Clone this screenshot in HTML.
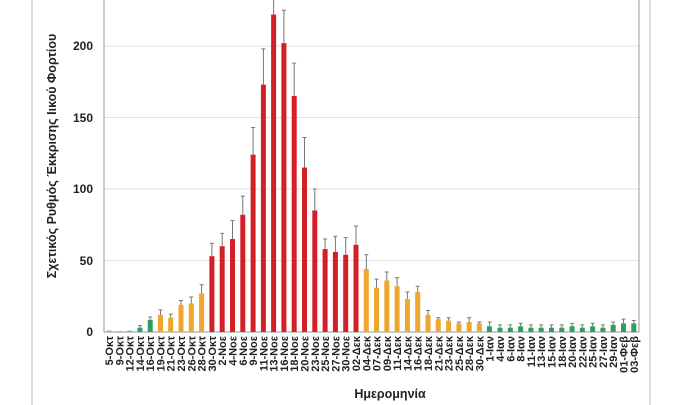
<!DOCTYPE html>
<html><head><meta charset="utf-8"><style>
html,body{margin:0;padding:0;background:#fff;width:690px;height:405px;overflow:hidden}
svg{display:block}
text{font-family:"Liberation Sans","DejaVu Sans",sans-serif;font-weight:bold;fill:#222}
.xl{font-size:11px}
</style></head><body>
<svg width="690" height="405" viewBox="0 0 690 405" xmlns="http://www.w3.org/2000/svg">
<line x1="32" y1="0" x2="32" y2="405" stroke="#bbb" stroke-width="1"/>
<line x1="650" y1="0" x2="650" y2="405" stroke="#bbb" stroke-width="1"/>
<g stroke="#e2e2e2" stroke-width="1">
<line x1="104" y1="46" x2="639" y2="46"/>
<line x1="104" y1="117.5" x2="639" y2="117.5"/>
<line x1="104" y1="189" x2="639" y2="189"/>
<line x1="104" y1="260.5" x2="639" y2="260.5"/>
</g>
<line x1="104" y1="0" x2="104" y2="332" stroke="#999"/>
<line x1="639" y1="0" x2="639" y2="332" stroke="#999"/>
<line x1="104" y1="332" x2="639" y2="332" stroke="#999"/>
<g font-size="12" text-anchor="end">
<text x="93" y="336">0</text>
<text x="93" y="265">50</text>
<text x="93" y="193">100</text>
<text x="93" y="122">150</text>
<text x="93" y="50">200</text>
</g>
<text transform="translate(56,156) rotate(-90)" text-anchor="middle" font-size="12.5">Σχετικός Ρυθμός Έκκρισης Ιικού Φορτίου</text>
<text x="390" y="398" text-anchor="middle" font-size="12.5">Ημερομηνία</text>

<g transform="translate(0,332) scale(1,-1.43)">
<g fill="#9aa">
<rect x="106.5" y="0" width="5" height="1"/><rect x="116.8" y="0" width="5" height="0.6"/><rect x="127.1" y="0" width="5" height="1"/>
</g>
<g fill="#2e9e5e">
<rect x="137.4" y="0" width="5" height="3"/><rect x="147.7" y="0" width="5" height="8.5"/>
<rect x="486.9" y="0" width="5" height="4"/><rect x="497.5" y="0" width="5" height="3"/><rect x="507.8" y="0" width="5" height="3"/><rect x="518.1" y="0" width="5" height="4"/><rect x="528.4" y="0" width="5" height="3"/><rect x="538.7" y="0" width="5" height="3"/><rect x="549" y="0" width="5" height="3"/><rect x="559.3" y="0" width="5" height="3"/><rect x="569.6" y="0" width="5" height="4"/><rect x="579.8" y="0" width="5" height="3"/><rect x="590.1" y="0" width="5" height="4"/><rect x="600.4" y="0" width="5" height="3"/><rect x="610.7" y="0" width="5" height="5"/><rect x="621" y="0" width="5" height="6"/><rect x="631.3" y="0" width="5" height="6"/>
</g>
<g fill="#efa62c">
<rect x="158" y="0" width="5" height="12"/><rect x="168.2" y="0" width="5" height="10"/><rect x="178.5" y="0" width="5" height="19"/><rect x="188.8" y="0" width="5" height="20"/><rect x="199.1" y="0" width="5" height="27"/>
<rect x="363.8" y="0" width="5" height="44"/><rect x="374" y="0" width="5" height="31"/><rect x="384.3" y="0" width="5" height="36"/><rect x="394.6" y="0" width="5" height="32"/><rect x="404.9" y="0" width="5" height="23"/><rect x="415.2" y="0" width="5" height="28"/><rect x="425.5" y="0" width="5" height="12"/><rect x="435.8" y="0" width="5" height="9"/><rect x="446.1" y="0" width="5" height="8"/><rect x="456.4" y="0" width="5" height="6"/><rect x="466.7" y="0" width="5" height="7"/><rect x="476.9" y="0" width="5" height="6"/>
</g>
<g fill="#d41f26">
<rect x="209.4" y="0" width="5" height="53"/><rect x="219.7" y="0" width="5" height="60"/><rect x="230" y="0" width="5" height="65"/><rect x="240.3" y="0" width="5" height="82"/><rect x="250.6" y="0" width="5" height="124"/><rect x="260.9" y="0" width="5" height="173"/><rect x="271.1" y="0" width="5" height="222"/><rect x="281.4" y="0" width="5" height="202"/><rect x="291.7" y="0" width="5" height="165"/><rect x="302" y="0" width="5" height="115"/><rect x="312.3" y="0" width="5" height="85"/><rect x="322.6" y="0" width="5" height="58"/><rect x="332.9" y="0" width="5" height="56"/><rect x="343.2" y="0" width="5" height="54"/><rect x="353.5" y="0" width="5" height="61"/>
</g>
<g stroke="#777" stroke-width="1" fill="none">
<path vector-effect="non-scaling-stroke" d="M139.9 3V4.5M150.2 8.5V10.5M160.5 12V15.5M170.7 10V12.5M181 19V22M191.3 20V24.5M201.6 27V33M211.9 53V62M222.2 60V69M232.5 65V78M242.8 82V95M253.1 124V143M263.4 173V198M273.6 222V240M283.9 202V225M294.2 165V188M304.5 115V136M314.8 85V100M325.1 58V65M335.4 56V67M345.7 54V66M356 61V74M366.3 44V54M376.5 31V37M386.8 36V42M397.1 32V38M407.4 23V28M417.7 28V32M428 12V15M438.3 9V10M448.6 8V10M458.9 6V7M469.2 7V10M479.4 6V7M489.7 4V7M500 3V5M510.3 3V5M520.6 4V6M530.9 3V5M541.2 3V5M551.5 3V5M561.8 3V5M572.1 4V6M582.3 3V5M592.6 4V6M602.9 3V5M613.2 5V7M623.5 6V9M633.8 6V8"/>
<path vector-effect="non-scaling-stroke" d="M138 4.5H142M148.2 10.5H152.2M158.5 15.5H162.5M168.7 12.5H172.7M179 22H183M189.3 24.5H193.3M199.6 33H203.6M209.9 62H213.9M220.2 69H224.2M230.5 78H234.5M240.8 95H244.8M251.1 143H255.1M261.4 198H265.4M281.9 225H285.9M292.2 188H296.2M302.5 136H306.5M312.8 100H316.8M323.1 65H327.1M333.4 67H337.4M343.7 66H347.7M354 74H358M364.3 54H368.3M374.5 37H378.5M384.8 42H388.8M395.1 38H399.1M405.4 28H409.4M415.7 32H419.7M426 15H430M436.3 10H440.3M446.6 10H450.6M456.9 7H460.9M467.2 10H471.2M477.4 7H481.4M487.7 7H491.7M498 5H502M508.3 5H512.3M518.6 6H522.6M528.9 5H532.9M539.2 5H543.2M549.5 5H553.5M559.8 5H563.8M570.1 6H574.1M580.3 5H584.3M590.6 6H594.6M600.9 5H604.9M611.2 7H615.2M621.5 9H625.5M631.8 8H635.8"/>
</g>
</g>

<g class="xl" text-anchor="end">
<text transform="translate(113,336) rotate(-90)">5-Οκτ</text>
<text transform="translate(123.3,336) rotate(-90)">9-Οκτ</text>
<text transform="translate(133.6,336) rotate(-90)">12-Οκτ</text>
<text transform="translate(143.9,336) rotate(-90)">14-Οκτ</text>
<text transform="translate(154.2,336) rotate(-90)">16-Οκτ</text>
<text transform="translate(164.5,336) rotate(-90)">19-Οκτ</text>
<text transform="translate(174.7,336) rotate(-90)">21-Οκτ</text>
<text transform="translate(185,336) rotate(-90)">23-Οκτ</text>
<text transform="translate(195.3,336) rotate(-90)">26-Οκτ</text>
<text transform="translate(205.6,336) rotate(-90)">28-Οκτ</text>
<text transform="translate(215.9,336) rotate(-90)">30-Οκτ</text>
<text transform="translate(226.2,336) rotate(-90)">2-Νοε</text>
<text transform="translate(236.5,336) rotate(-90)">4-Νοε</text>
<text transform="translate(246.8,336) rotate(-90)">6-Νοε</text>
<text transform="translate(257.1,336) rotate(-90)">9-Νοε</text>
<text transform="translate(267.4,336) rotate(-90)">11-Νοε</text>
<text transform="translate(277.6,336) rotate(-90)">13-Νοε</text>
<text transform="translate(287.9,336) rotate(-90)">16-Νοε</text>
<text transform="translate(298.2,336) rotate(-90)">18-Νοε</text>
<text transform="translate(308.5,336) rotate(-90)">20-Νοε</text>
<text transform="translate(318.8,336) rotate(-90)">23-Νοε</text>
<text transform="translate(329.1,336) rotate(-90)">25-Νοε</text>
<text transform="translate(339.4,336) rotate(-90)">27-Νοε</text>
<text transform="translate(349.7,336) rotate(-90)">30-Νοε</text>
<text transform="translate(360,336) rotate(-90)">02-Δεκ</text>
<text transform="translate(370.3,336) rotate(-90)">04-Δεκ</text>
<text transform="translate(380.5,336) rotate(-90)">07-Δεκ</text>
<text transform="translate(390.8,336) rotate(-90)">09-Δεκ</text>
<text transform="translate(401.1,336) rotate(-90)">11-Δεκ</text>
<text transform="translate(411.4,336) rotate(-90)">14-Δεκ</text>
<text transform="translate(421.7,336) rotate(-90)">16-Δεκ</text>
<text transform="translate(432,336) rotate(-90)">18-Δεκ</text>
<text transform="translate(442.3,336) rotate(-90)">21-Δεκ</text>
<text transform="translate(452.6,336) rotate(-90)">23-Δεκ</text>
<text transform="translate(462.9,336) rotate(-90)">25-Δεκ</text>
<text transform="translate(473.2,336) rotate(-90)">28-Δεκ</text>
<text transform="translate(483.4,336) rotate(-90)">30-Δεκ</text>
<text transform="translate(493.7,336) rotate(-90)">1-Ιαν</text>
<text transform="translate(504,336) rotate(-90)">4-Ιαν</text>
<text transform="translate(514.3,336) rotate(-90)">6-Ιαν</text>
<text transform="translate(524.6,336) rotate(-90)">8-Ιαν</text>
<text transform="translate(534.9,336) rotate(-90)">11-Ιαν</text>
<text transform="translate(545.2,336) rotate(-90)">13-Ιαν</text>
<text transform="translate(555.5,336) rotate(-90)">15-Ιαν</text>
<text transform="translate(565.8,336) rotate(-90)">18-Ιαν</text>
<text transform="translate(576.1,336) rotate(-90)">20-Ιαν</text>
<text transform="translate(586.3,336) rotate(-90)">22-Ιαν</text>
<text transform="translate(596.6,336) rotate(-90)">25-Ιαν</text>
<text transform="translate(606.9,336) rotate(-90)">27-Ιαν</text>
<text transform="translate(617.2,336) rotate(-90)">29-Ιαν</text>
<text transform="translate(627.5,336) rotate(-90)">01-Φεβ</text>
<text transform="translate(637.8,336) rotate(-90)">03-Φεβ</text>
</g>
</svg>
</body></html>
